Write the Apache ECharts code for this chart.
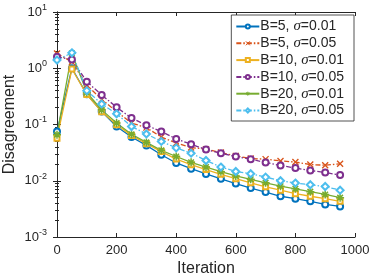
<!DOCTYPE html>
<html>
<head>
<meta charset="utf-8">
<script src="https://cdn.jsdelivr.net/npm/echarts@6/dist/echarts.min.js"></script>
<style>html,body{margin:0;padding:0;background:#fff}#c{width:374px;height:280px}</style>
</head>
<body>
<div id="c"></div>
<script>
var iterations = [0, 50, 100, 150, 200, 250, 300, 350, 400, 450, 500, 550, 600, 650, 700, 750, 800, 850, 900, 950];
var xTicks = [0, 200, 400, 600, 800, 1000];
var yTicks = [0.001, 0.01, 0.1, 1, 10];
var seriesNames = ['B=5, σ=0.01', 'B=5, σ=0.05', 'B=10, σ=0.01', 'B=10, σ=0.05', 'B=20, σ=0.01', 'B=20, σ=0.05'];
var b5s01 = [0.075, 1.0, 0.344, 0.17, 0.092, 0.060, 0.0425, 0.029, 0.0207, 0.0164, 0.0132, 0.0108, 0.0089, 0.0074, 0.0063, 0.0053, 0.0048, 0.0043, 0.0038, 0.0035];
var b5s05 = [1.83, 1.30, 0.50, 0.28, 0.17, 0.106, 0.088, 0.060, 0.047, 0.039, 0.0364, 0.0317, 0.0277, 0.0248, 0.0242, 0.0225, 0.0215, 0.0194, 0.0189, 0.0200];
var b10s01 = [0.057, 0.97, 0.34, 0.168, 0.099, 0.064, 0.0455, 0.033, 0.0243, 0.0193, 0.0158, 0.013, 0.0109, 0.0092, 0.0078, 0.0068, 0.0059, 0.0053, 0.0048, 0.0043];
var b10s05 = [1.6, 1.43, 0.577, 0.335, 0.203, 0.13, 0.097, 0.075, 0.0554, 0.0446, 0.0358, 0.0309, 0.0269, 0.0242, 0.0211, 0.0187, 0.0168, 0.0152, 0.014, 0.0126];
var b20s01 = [0.066, 1.85, 0.37, 0.182, 0.106, 0.067, 0.048, 0.0347, 0.027, 0.0213, 0.0175, 0.0145, 0.0122, 0.0106, 0.0092, 0.0080, 0.0072, 0.0064, 0.0057, 0.0050];
var b20s05 = [1.40, 1.88, 0.40, 0.232, 0.155, 0.092, 0.068, 0.050, 0.0384, 0.0309, 0.0229, 0.0175, 0.0146, 0.0133, 0.0116, 0.0100, 0.0091, 0.0085, 0.0079, 0.0068];

var colors = ['#0072BD', '#D95319', '#EDB120', '#7E2F8E', '#77AC30', '#4DBEEE'];
var values = [b5s01, b5s05, b10s01, b10s05, b20s01, b20s05];
var symbols = ['emptyCircle', 'path://M0,0 L10,10 M10,0 L0,10', 'emptyRect', 'emptyCircle',
  'path://M5,0 L5,10 M0,5 L10,5 M1.5,1.5 L8.5,8.5 M8.5,1.5 L1.5,8.5', 'emptyDiamond'];
var symSizes = [6, 6, 5, 6, 8, 7];
var borderWidths = [1.1, 1.3, 1.1, 1.1, 1.5, 1.1];
var dashed = [false, true, false, true, false, true];
var font = 'Liberation Sans, Arial, Helvetica, sans-serif';
var textColor = '#262626';

function zip(xs, ys) { return xs.map(function (x, i) { return [x, ys[i]]; }); }

var series = values.map(function (v, k) {
  return {
    name: seriesNames[k],
    type: 'line',
    data: zip(iterations, v),
    symbol: symbols[k],
    symbolSize: symSizes[k],
    showAllSymbol: true,
    color: colors[k],
    lineStyle: { width: 1.3, color: colors[k], type: dashed[k] ? [5, 2, 1.5, 2] : 'solid' },
    itemStyle: { color: colors[k], borderColor: colors[k], borderWidth: borderWidths[k] },
    emphasis: { disabled: true },
    animation: false
  };
});

var chart = echarts.init(document.getElementById('c'), null, { renderer: 'canvas' });
chart.setOption({
  backgroundColor: '#fff',
  animation: false,
  grid: { left: 57, right: 19, top: 12, bottom: 43, containLabel: false, outerBoundsMode: 'none' },
  legend: {
    orient: 'vertical',
    right: 20,
    top: 15,
    backgroundColor: '#fff',
    borderColor: '#262626',
    borderWidth: 0.8,
    borderRadius: 0,
    padding: [4, 10, 3, 4],
    itemWidth: 23,
    itemHeight: 5,
    itemGap: 1.8,
    data: seriesNames,
    itemStyle: { borderWidth: 1 },
    formatter: function (name) {
      var parts = name.split('σ');
      return '{a|' + parts[0] + '}{i|σ}{a|' + parts[1] + '}';
    },
    textStyle: {
      color: textColor,
      fontFamily: font,
      fontSize: 14,
      padding: [0, 0, 0, -4],
      rich: {
        a: { fontFamily: font, fontSize: 14, color: textColor, lineHeight: 14 },
        i: { fontFamily: 'Liberation Serif, serif', fontStyle: 'italic', fontSize: 15, color: textColor, lineHeight: 14 }
      }
    }
  },
  xAxis: [{
    type: 'value', min: xTicks[0], max: xTicks[xTicks.length - 1], interval: 200,
    name: 'Iteration', nameLocation: 'middle', nameGap: 24, nameMoveOverlap: false,
    nameTextStyle: { fontFamily: font, fontSize: 16, color: textColor },
    axisLine: { show: true, lineStyle: { color: textColor, width: 1 } },
    axisTick: { show: true, inside: true, length: 4, lineStyle: { color: textColor } },
    axisLabel: {
      fontFamily: font, fontSize: 13, color: textColor, margin: 7,
      formatter: function (v) { return String(v); }
    },
    splitLine: { show: false }
  }, {
    type: 'value', min: xTicks[0], max: xTicks[xTicks.length - 1], interval: 200, position: 'top',
    axisLine: { show: true, lineStyle: { color: textColor, width: 1 } },
    axisTick: { show: true, inside: true, length: 4, lineStyle: { color: textColor } },
    axisLabel: { show: false }, splitLine: { show: false }
  }],
  yAxis: [{
    type: 'log', logBase: 10, min: yTicks[0], max: yTicks[yTicks.length - 1],
    name: 'Disagreement', nameLocation: 'middle', nameGap: 39, nameMoveOverlap: false,
    nameTextStyle: { fontFamily: font, fontSize: 16, color: textColor },
    axisLine: { show: true, lineStyle: { color: textColor, width: 1 } },
    axisTick: { show: true, inside: true, length: 4, lineStyle: { color: textColor } },
    minorTick: { show: true, splitNumber: 9, length: 2, lineStyle: { color: textColor } },
    axisLabel: {
      fontFamily: font, fontSize: 13, color: textColor, margin: 10,
      formatter: function (v) {
        var e = Math.round(Math.log10(v));
        return '{b|10}{s|' + e + '}';
      },
      rich: {
        b: { fontFamily: font, fontSize: 13, color: textColor },
        s: { fontFamily: font, fontSize: 9, color: textColor, padding: [0, 0, 9, 0] }
      }
    },
    splitLine: { show: false }
  }, {
    type: 'log', logBase: 10, min: yTicks[0], max: yTicks[yTicks.length - 1], position: 'right',
    axisLine: { show: true, lineStyle: { color: textColor, width: 1 } },
    axisTick: { show: true, inside: true, length: 4, lineStyle: { color: textColor } },
    minorTick: { show: true, splitNumber: 9, length: 2, lineStyle: { color: textColor } },
    axisLabel: { show: false }, splitLine: { show: false }
  }],
  series: series
});
</script>
</body>
</html>
